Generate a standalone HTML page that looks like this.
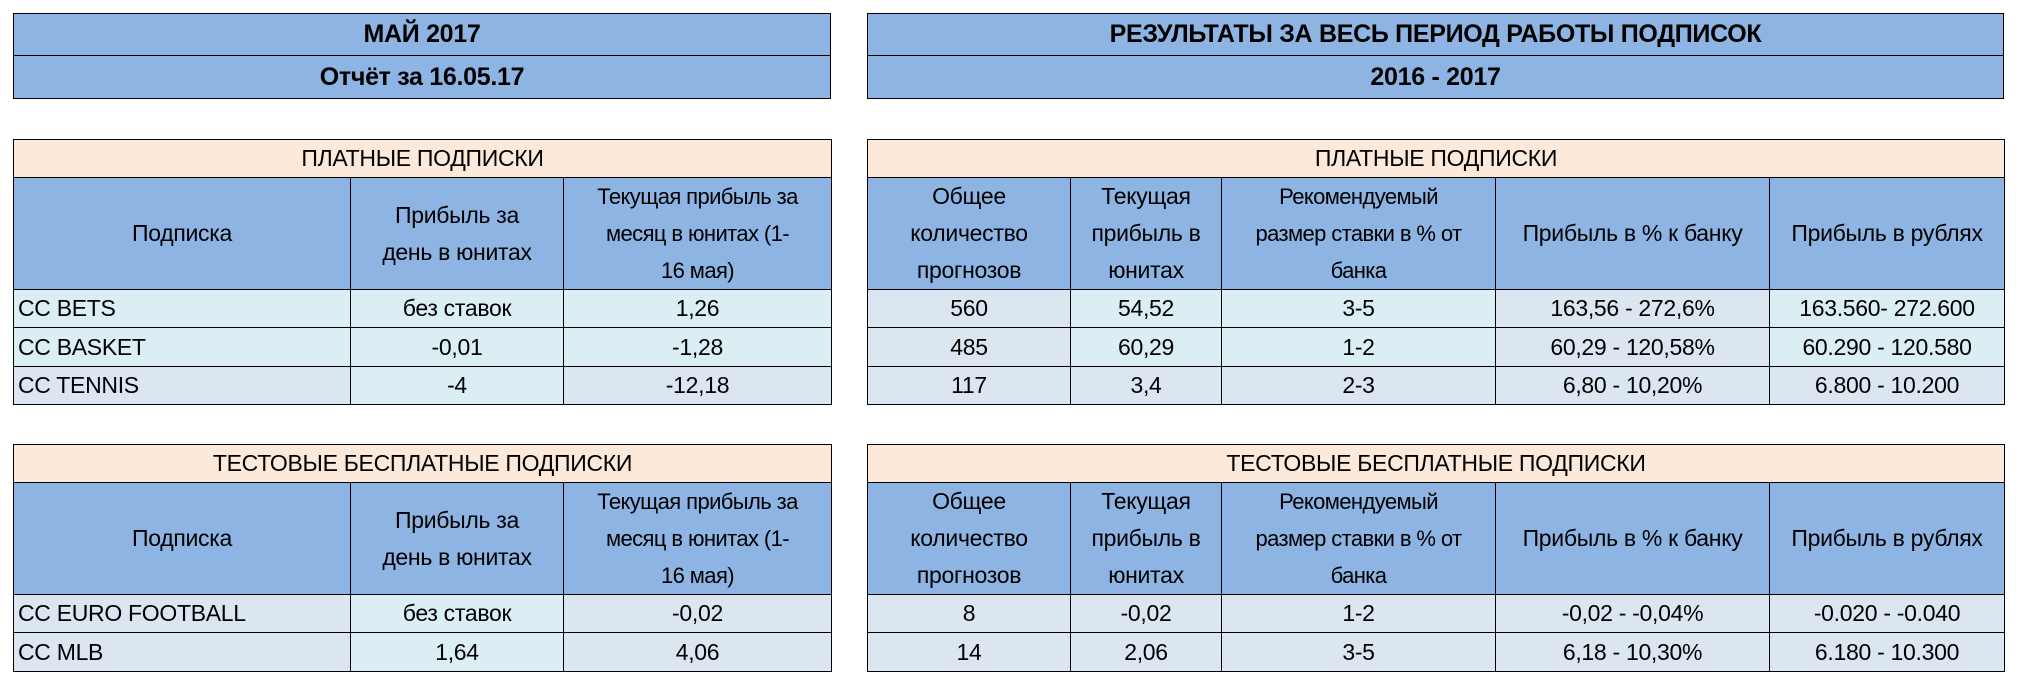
<!DOCTYPE html>
<html><head><meta charset="utf-8"><style>
body{margin:0;width:2026px;height:689px;background:#fff;position:relative;overflow:hidden;font-family:"Liberation Sans",sans-serif;color:#000}
table{position:absolute;border-collapse:collapse;table-layout:fixed}
td{border:1.5px solid #000;text-align:center;font-size:23px;padding:0;overflow:hidden;white-space:nowrap;letter-spacing:-0.3px}
.t td{background:#8db4e2;font-weight:bold;font-size:25px}
.p{background:#fde9d9}
.h{background:#8db4e2;line-height:37px}
.c{background:#daeef3}
.b{background:#dce6f1}
.l{text-align:left;padding-left:4px}
.s{font-size:22px;letter-spacing:-0.6px}
</style></head><body>
<table class="t" style="left:13px;top:13px;width:818px">
<tr style="height:42px"><td>МАЙ 2017</td></tr>
<tr style="height:43px"><td>Отчёт за 16.05.17</td></tr></table>
<table class="t" style="left:867px;top:13px;width:1137px">
<tr style="height:42px"><td>РЕЗУЛЬТАТЫ ЗА ВЕСЬ ПЕРИОД РАБОТЫ ПОДПИСОК</td></tr>
<tr style="height:43px"><td>2016 - 2017</td></tr></table>

<table style="left:13px;top:139px;width:818px">
<colgroup><col style="width:337px"><col style="width:213px"><col style="width:268px"></colgroup>
<tr style="height:38px"><td class="p" colspan="3">ПЛАТНЫЕ ПОДПИСКИ</td></tr>
<tr style="height:112px"><td class="h">Подписка</td><td class="h">Прибыль за<br>день в юнитах</td><td class="h s">Текущая прибыль за<br>месяц в юнитах (1-<br>16 мая)</td></tr>
<tr style="height:38px"><td class="c l">CC BETS</td><td class="c">без ставок</td><td class="c">1,26</td></tr>
<tr style="height:39px"><td class="c l">CC BASKET</td><td class="c">-0,01</td><td class="c">-1,28</td></tr>
<tr style="height:38px"><td class="b l">CC TENNIS</td><td class="c">-4</td><td class="b">-12,18</td></tr></table>

<table style="left:867px;top:139px;width:1137px">
<colgroup><col style="width:203px"><col style="width:151px"><col style="width:274px"><col style="width:274px"><col style="width:235px"></colgroup>
<tr style="height:38px"><td class="p" colspan="5">ПЛАТНЫЕ ПОДПИСКИ</td></tr>
<tr style="height:112px"><td class="h">Общее<br>количество<br>прогнозов</td><td class="h">Текущая<br>прибыль в<br>юнитах</td><td class="h s">Рекомендуемый<br>размер ставки в % от<br>банка</td><td class="h">Прибыль в % к банку</td><td class="h">Прибыль в рублях</td></tr>
<tr style="height:38px"><td class="b">560</td><td class="c">54,52</td><td class="c">3-5</td><td class="b">163,56 - 272,6%</td><td class="c">163.560- 272.600</td></tr>
<tr style="height:39px"><td class="b">485</td><td class="c">60,29</td><td class="c">1-2</td><td class="b">60,29 - 120,58%</td><td class="c">60.290 - 120.580</td></tr>
<tr style="height:38px"><td class="b">117</td><td class="b">3,4</td><td class="b">2-3</td><td class="b">6,80 - 10,20%</td><td class="b">6.800 - 10.200</td></tr></table>

<table style="left:13px;top:444px;width:818px">
<colgroup><col style="width:337px"><col style="width:213px"><col style="width:268px"></colgroup>
<tr style="height:38px"><td class="p" colspan="3">ТЕСТОВЫЕ БЕСПЛАТНЫЕ ПОДПИСКИ</td></tr>
<tr style="height:112px"><td class="h">Подписка</td><td class="h">Прибыль за<br>день в юнитах</td><td class="h s">Текущая прибыль за<br>месяц в юнитах (1-<br>16 мая)</td></tr>
<tr style="height:38px"><td class="b l">CC EURO FOOTBALL</td><td class="c">без ставок</td><td class="b">-0,02</td></tr>
<tr style="height:39px"><td class="b l">CC MLB</td><td class="c">1,64</td><td class="b">4,06</td></tr></table>

<table style="left:867px;top:444px;width:1137px">
<colgroup><col style="width:203px"><col style="width:151px"><col style="width:274px"><col style="width:274px"><col style="width:235px"></colgroup>
<tr style="height:38px"><td class="p" colspan="5">ТЕСТОВЫЕ БЕСПЛАТНЫЕ ПОДПИСКИ</td></tr>
<tr style="height:112px"><td class="h">Общее<br>количество<br>прогнозов</td><td class="h">Текущая<br>прибыль в<br>юнитах</td><td class="h s">Рекомендуемый<br>размер ставки в % от<br>банка</td><td class="h">Прибыль в % к банку</td><td class="h">Прибыль в рублях</td></tr>
<tr style="height:38px"><td class="b">8</td><td class="b">-0,02</td><td class="b">1-2</td><td class="b">-0,02 - -0,04%</td><td class="b">-0.020 - -0.040</td></tr>
<tr style="height:39px"><td class="b">14</td><td class="b">2,06</td><td class="b">3-5</td><td class="b">6,18 - 10,30%</td><td class="b">6.180 - 10.300</td></tr></table>
</body></html>
